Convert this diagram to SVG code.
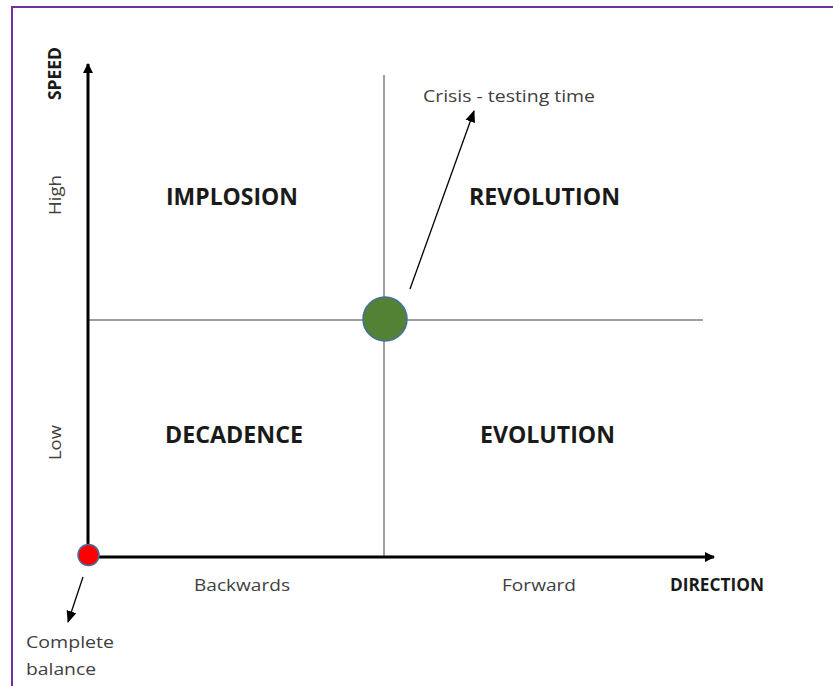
<svg xmlns="http://www.w3.org/2000/svg" width="833" height="686" viewBox="0 0 833 686">
<defs>
<style>
.t{font-family:"Open Sans","Liberation Sans",sans-serif;fill:#404040;font-size:16px}
.b{font-family:"Open Sans","Liberation Sans",sans-serif;fill:#1a1a1a;font-weight:bold;font-size:23px}
.thin{stroke:#7f7f7f;stroke-width:1.5;fill:none}
.axis{stroke:#000;stroke-width:3;fill:none}
.ptr{stroke:#000;stroke-width:1.3;fill:none}
</style>
<marker id="ah" markerWidth="10" markerHeight="10" refX="9" refY="5" orient="auto" markerUnits="userSpaceOnUse" viewBox="0 0 10 10">
<path d="M0,0 L10,5 L0,10 Z" fill="#000"/>
</marker>
<marker id="ahs" markerWidth="12" markerHeight="12" refX="11" refY="6" orient="auto" markerUnits="userSpaceOnUse" viewBox="0 0 12 12">
<path d="M0,1 L12,6 L0,11 Z" fill="#000"/>
</marker>
</defs>
<rect x="0" y="0" width="833" height="686" fill="#fff"/>
<rect x="12" y="7" width="840" height="700" fill="none" stroke="#7030a0" stroke-width="2"/>
<g id="connectors">
<line class="thin" x1="384" y1="75" x2="384" y2="557"/>
<line class="thin" x1="87" y1="320" x2="703" y2="320"/>
<line class="axis" x1="88" y1="557" x2="88" y2="64" marker-end="url(#ah)"/>
<line class="axis" x1="88" y1="557" x2="714" y2="557" marker-end="url(#ah)"/>
<line class="ptr" x1="410" y1="289" x2="474" y2="111" marker-end="url(#ahs)"/>
<line class="ptr" x1="83" y1="577" x2="68" y2="622" marker-end="url(#ahs)"/>
</g>
<g id="node-center"><circle cx="385" cy="319" r="22" fill="#548235" stroke="#41719c" stroke-width="1.5"/></g>
<g id="node-origin"><circle cx="88.5" cy="555" r="10.5" fill="#ff0000" stroke="#41719c" stroke-width="1.5"/></g>
<g id="labels">
<text class="b" x="166" y="205" textLength="132" lengthAdjust="spacingAndGlyphs">IMPLOSION</text>
<text class="b" x="469" y="205" textLength="151" lengthAdjust="spacingAndGlyphs">REVOLUTION</text>
<text class="b" x="165" y="443" textLength="138" lengthAdjust="spacingAndGlyphs">DECADENCE</text>
<text class="b" x="480" y="443" textLength="135" lengthAdjust="spacingAndGlyphs">EVOLUTION</text>
<text class="t" x="423" y="102" textLength="172" lengthAdjust="spacingAndGlyphs">Crisis - testing time</text>
<text class="t" x="194" y="591" textLength="96" lengthAdjust="spacingAndGlyphs">Backwards</text>
<text class="t" x="502" y="591" textLength="74" lengthAdjust="spacingAndGlyphs">Forward</text>
<text class="b" x="670" y="591" style="font-size:18px" textLength="94" lengthAdjust="spacingAndGlyphs">DIRECTION</text>
<text class="t" x="26" y="648" textLength="88" lengthAdjust="spacingAndGlyphs">Complete</text>
<text class="t" x="26" y="675" textLength="70" lengthAdjust="spacingAndGlyphs">balance</text>
<text class="b" transform="translate(61,100) rotate(-90)" style="font-size:18px" textLength="53" lengthAdjust="spacingAndGlyphs">SPEED</text>
<text class="t" transform="translate(61,215) rotate(-90)" textLength="40" lengthAdjust="spacingAndGlyphs">High</text>
<text class="t" transform="translate(61,460) rotate(-90)" textLength="35" lengthAdjust="spacingAndGlyphs">Low</text>
</g>
</svg>
